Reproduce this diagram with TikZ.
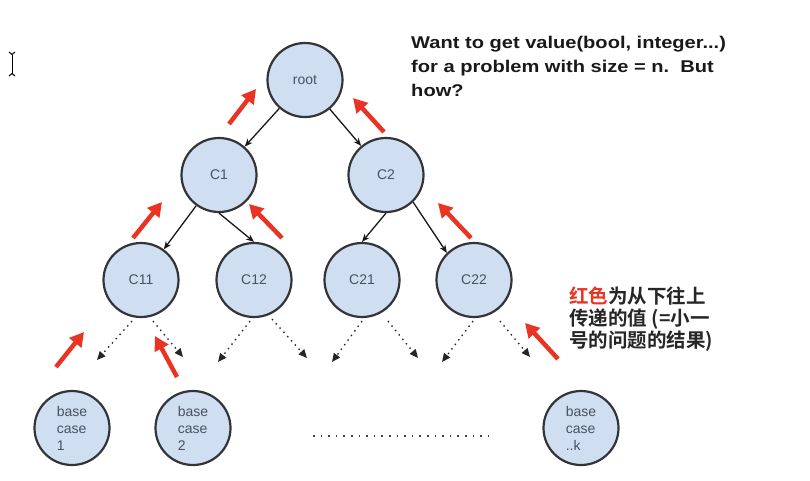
\documentclass[tikz,border=0pt]{standalone}
\usepackage{fontspec}
\setmainfont{Liberation Sans}
\newfontfamily\cjk{Noto Sans CJK SC}[BoldFont={Noto Sans CJK SC Bold}]
\usetikzlibrary{shapes.geometric,arrows.meta}
\definecolor{nodeblue}{RGB}{207,222,240}
\definecolor{upred}{RGB}{234,52,35}
\definecolor{labelgray}{RGB}{72,82,98}
\definecolor{rimgray}{RGB}{50,52,56}
\begin{document}
\begin{tikzpicture}[x=1pt,y=-1pt,
  tnode/.style={ellipse, draw=rimgray, line width=2.2pt, fill=nodeblue,
    minimum width=75pt, minimum height=74pt, inner sep=0pt,
    text=labelgray, font=\fontsize{14}{17}\selectfont},
  treearrow/.style={draw=black!90, line width=1.3pt, -{Stealth[length=8pt,width=6.5pt]}},
  dotarrow/.style={draw=black!85, line width=1.4pt, dash pattern=on 1.4pt off 4.3pt,
    -{Triangle[length=8.5pt,width=7.5pt]}},
  uparrow/.style={draw=upred, line width=4.5pt, -{Triangle[length=14pt,width=15pt]}},
  qline/.style={anchor=base west, inner sep=0pt, xscale=1.18, transform shape,
    font=\bfseries\fontsize{17}{20}\selectfont, text=black!90},
  cline/.style={anchor=base west, inner sep=0pt, font=\cjk\bfseries\fontsize{19.5}{22}\selectfont, text=black!85}
]
\useasboundingbox (0,0) rectangle (810,480);

% cursor glyph
\draw[line width=1pt] (9,52) -- (12,54.5) -- (15,52);
\draw[line width=1pt] (12,54.5) -- (12,73.5);
\draw[line width=1pt] (9,76) -- (12,73.5) -- (15,76);

% nodes
\node[tnode] (root) at (305,80) {root};
\node[tnode] (C1) at (219,175) {C1};
\node[tnode] (C2) at (386,175) {C2};
\node[tnode] (C11) at (141,280) {C11};
\node[tnode] (C12) at (254,280) {C12};
\node[tnode] (C21) at (362,280) {C21};
\node[tnode] (C22) at (474,280) {C22};
\node[tnode, align=left] (b1) at (72,428) {base\\case\\1};
\node[tnode, align=left] (b2) at (193,428) {base\\case\\2};
\node[tnode, align=left] (bk) at (581,428) {base\\case\\..k};

% tree arrows
\draw[treearrow] (root) -- (C1);
\draw[treearrow] (root) -- (C2);
\draw[treearrow] (C1) -- (C11);
\draw[treearrow] (C1.south) -- (C12.north);
\draw[treearrow] (C2.south) -- (C21.north);
\draw[treearrow] (C2.-45) -- (C22.135);

% dotted arrows to lower levels
\coordinate (e11l) at (97,360);
\coordinate (e11r) at (183,357);
\coordinate (e12l) at (218,362);
\coordinate (e12r) at (307,358);
\coordinate (e21l) at (332,362);
\coordinate (e21r) at (418,358);
\coordinate (e22l) at (442,362);
\coordinate (e22r) at (530,357);
\draw[dotarrow] ([xshift=-9pt,yshift=-3pt]C11.south) -- (e11l);
\draw[dotarrow] ([xshift=12pt,yshift=-3pt]C11.south) -- (e11r);
\draw[dotarrow] ([xshift=-4pt,yshift=-3pt]C12.south) -- (e12l);
\draw[dotarrow] ([xshift=18pt,yshift=-1pt]C12.south) -- (e12r);
\draw[dotarrow] ([xshift=0pt,yshift=-3pt]C21.south) -- (e21l);
\draw[dotarrow] ([xshift=26pt,yshift=-3pt]C21.south) -- (e21r);
\draw[dotarrow] ([xshift=-1pt,yshift=-3pt]C22.south) -- (e22l);
\draw[dotarrow] ([xshift=26pt,yshift=-3pt]C22.south) -- (e22r);

% horizontal ellipsis
\coordinate (hd1) at (313,436);
\coordinate (hd2) at (492,436);
\draw[black!75, line width=1.6pt, dash pattern=on 1.6pt off 6pt] (hd1) -- (hd2);

% red upward arrows
\draw[uparrow] (229,124) -- (256,89);
\draw[uparrow] (384,132) -- (353,98);
\draw[uparrow] (133,238) -- (162,202);
\draw[uparrow] (282,238) -- (249,204);
\draw[uparrow] (471,238) -- (438,203);
\draw[uparrow] (56,367) -- (84,332);
\draw[uparrow] (177,377) -- (155,336);
\draw[uparrow] (558,359) -- (525,323);

% question text
\node[qline] (q1) at (411,48.5) {Want to get value(bool, integer...)};
\node[qline] (q2) at (411,72.5) {for a problem with size = n.\ \ But};
\node[qline] (q3) at (411,96) {how?};

% chinese note
\node[cline] (n1) at (569,303) {{\color{upred}红色}为从下往上};
\node[cline] (n2) at (569,325) {传递的值 (=小一};
\node[cline] (n3) at (569,347) {号的问题的结果)};
\end{tikzpicture}
\end{document}
